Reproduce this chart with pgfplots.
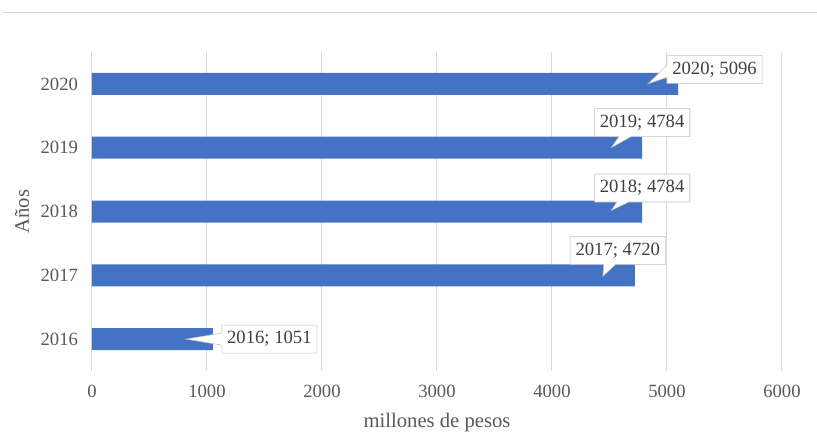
\documentclass[border=0pt]{standalone}
\usepackage{fontspec}
\setmainfont{Liberation Serif}
\usepackage{pgfplots}
\pgfplotsset{compat=1.18}
\usepackage{pgfplotstable}
\usetikzlibrary{shapes.callouts}
\definecolor{barblue}{HTML}{4472C4}
\definecolor{gridgray}{HTML}{D9D9D9}
\definecolor{txtgray}{HTML}{595959}
\definecolor{lbltxt}{HTML}{404040}
\definecolor{boxgray}{HTML}{BFBFBF}
% dx,dy: box centre offset from bar end (px); tx,ty: pointer beyond box border (px)
\pgfplotstableread{
year val lbl dx dy tx ty
2016 1051 {2016; 1051} 56.5 0 -36 0
2017 4720 {2017; 4720} -17 25 -6.9 -12
2018 4784 {2018; 4784} 0 23.5 -11.7 -8.5
2019 4784 {2019; 4784} 0 25 -13.6 -11
2020 5096 {2020; 5096} 36.5 14.5 -19 -4.1
}\datatable
\begin{document}
\begin{tikzpicture}[font=\fontsize{14}{16.8}\selectfont]
\useasboundingbox (-69pt,-45.75pt) rectangle (543.75pt,278.25pt);
\draw[gridgray] (-67.5pt,269.25pt) -- (543.75pt,269.25pt);
\begin{axis}[
  at={(0,0)}, anchor=south west,
  scale only axis, width=517.5pt, height=239.25pt,
  xbar, bar width=16.5pt, bar shift=0pt,
  xmin=0, xmax=6000, ymin=2015.5, ymax=2020.5,
  xtick={0,1000,...,6000}, ytick={2016,2017,2018,2019,2020},
  /pgf/number format/1000 sep={},
  /pgf/number format/assume math mode=true,
  xmajorgrids, grid style={gridgray, line width=0.75pt},
  axis line style={draw=none}, major tick length=0pt,
  tick label style={text=txtgray},
  xticklabel style={yshift=-7pt},
  yticklabel style={xshift=-7pt},
  xlabel={millones de pesos}, ylabel={Años},
  label style={text=txtgray, font=\fontsize{15.5}{18}\selectfont},
  xlabel style={at={(axis description cs:0.5,-0.163)}, anchor=center},
  ylabel style={at={(axis description cs:-0.1014,0.5)}, anchor=center},
  clip=false,
  point meta=explicit symbolic,
  visualization depends on={\thisrow{dx} \as \dx},
  visualization depends on={\thisrow{dy} \as \dy},
  visualization depends on={\thisrow{tx} \as \tx},
  visualization depends on={\thisrow{ty} \as \ty},
  nodes near coords,
  every node near coord/.append style={rectangle callout, draw=boxgray, fill=white,
     text=lbltxt, anchor=center, xshift=\dx*0.75pt, yshift=\dy*0.75pt,
     callout relative pointer={(\tx*0.75pt,\ty*0.75pt)},
     inner xsep=4pt, inner ysep=0pt, minimum height=21pt, callout pointer width=9pt},
]
\addplot[fill=barblue, draw=none] table[x=val,y=year,meta=lbl]{\datatable};
\end{axis}
\end{tikzpicture}
\end{document}
